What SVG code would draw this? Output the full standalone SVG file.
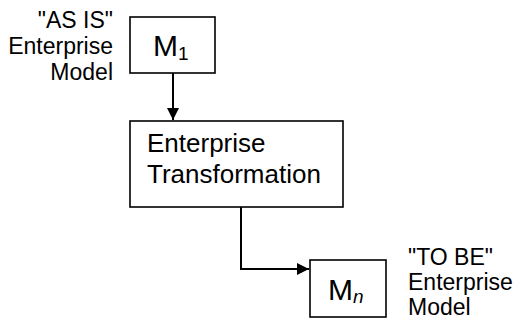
<svg xmlns="http://www.w3.org/2000/svg" width="514" height="324" viewBox="0 0 514 324">
<style>
.box{fill:#fff;stroke:#000;stroke-width:1.6}
.t{font-family:"Liberation Sans",Arial,sans-serif;fill:#000}
.lbl{font-size:23px}
.big{font-size:26px}
.m{font-size:30px}
.sub{font-size:19px}
.con{fill:none;stroke:#000;stroke-width:2}
</style>
<defs>
<marker id="arr" markerWidth="14" markerHeight="14" refX="12" refY="6" orient="auto" markerUnits="userSpaceOnUse">
<path d="M0,0 L12,6 L0,12 Z" fill="#000"/>
</marker>
</defs>
<g id="connectors">
<path class="con" d="M173,73 V120" marker-end="url(#arr)"/>
<path class="con" d="M241,207 V269 H309" marker-end="url(#arr)"/>
</g>
<g id="asis-label">
<text class="t lbl" text-anchor="end" x="113" y="28">"AS IS"</text>
<text class="t lbl" text-anchor="end" x="113" y="54">Enterprise</text>
<text class="t lbl" text-anchor="end" x="113" y="80">Model</text>
</g>
<g id="m1">
<rect class="box" x="130" y="17" width="85" height="56"/>
<text class="t m" x="153" y="56">M<tspan class="sub" dy="4">1</tspan></text>
</g>
<g id="transformation">
<rect class="box" x="130" y="121" width="213" height="86"/>
<text class="t big" x="147" y="152">Enterprise</text>
<text class="t big" x="147" y="183">Transformation</text>
</g>
<g id="mn">
<rect class="box" x="310" y="260" width="76" height="57"/>
<text class="t m" x="328" y="300">M<tspan class="sub" font-style="italic" dy="3">n</tspan></text>
</g>
<g id="tobe-label">
<text class="t lbl" x="408" y="265">"TO BE"</text>
<text class="t lbl" x="408" y="290">Enterprise</text>
<text class="t lbl" x="408" y="315">Model</text>
</g>
</svg>
